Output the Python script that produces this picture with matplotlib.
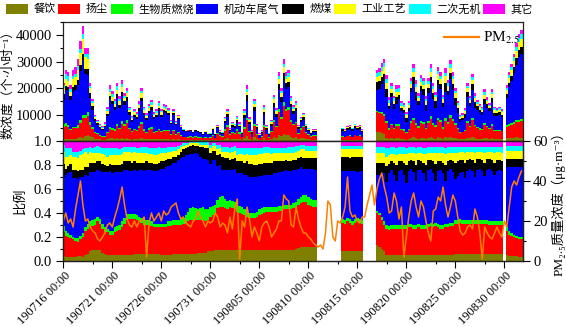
import numpy as np
import pandas as pd
import matplotlib
matplotlib.use('Agg')
import matplotlib.pyplot as plt
import matplotlib.dates as mdates
from matplotlib.patches import Patch
from matplotlib.lines import Line2D
from matplotlib.ticker import FixedLocator, MultipleLocator, FormatStrFormatter
from matplotlib.transforms import ScaledTranslation

plt.rcParams['font.family'] = ['Liberation Serif', 'Noto Sans CJK SC', 'DejaVu Sans']
plt.rcParams['mathtext.fontset'] = 'stix'
plt.rcParams['axes.unicode_minus'] = False

N = np.nan
start_time = '2019-07-16 00:00'   # 6-hourly samples

categories = ['餐饮', '扬尘', '生物质燃烧', '机动车尾气', '燃煤', '工业工艺', '二次无机', '其它']
colors = ['#808000', '#FF0000', '#00FF00', '#0000FF', '#000000', '#FFFF00', '#00FFFF', '#FF00FF']

# total number concentration, 6-hourly
total_count = [
    22000, 27000, 26000, 21000, 27000, 28000, 31000, 38000,
    43500, 35000, 35000, 22000, 16000, 10000, 8000, 6500,
    5500, 7000, 13000, 21000, 19000, 16000, 22000, 17000,
    23000, 18000, 20000, 13000, 9500, 12000, 11000, 15000,
    20000, 13000, 10500, 14000, 15500, 11000, 12000, 15000,
    12000, 14000, 13500, 12500, 8000, 12000, 7500, 10000,
    6000, 4500, 4200, 4000, 4200, 3500, 4300, 3800,
    3500, 2800, 3800, 3000, 3000, 5000, 2800, 6000,
    4000, 3500, 9000, 12000, 5000, 7000, 6500, 9500,
    7000, 3500, 12000, 21000, 9000, 4000, 16000, 6500,
    3000, 4000, 13500, 6000, 3000, 8000, 17500, 12500,
    26000, 20000, 31000, 26000, 27000, 17000, 13500, 15000,
    6000, 9000, 10500, 6500, 5000, 3500, 4500, 4500,
    N, N, N, N, N, N, N, N,
    N, N, 5000, 4500, 5500, 6000, 5000, 6500,
    5500, 6000, 4500, N, N, N, N, N,
    27000, 27500, 29500, 31000, 25000, 16500, 22000, 17000,
    21000, 21000, 15000, 14500, 11000, 15000, 24000, 29000,
    23000, 18000, 25000, 24000, 17000, 24000, 29000, 22000,
    18500, 28000, 26000, 17500, 27500, 23000, 30500, 26000,
    20000, 15000, 10000, 10500, 12500, 22000, 17000, 25500,
    18000, 15500, 14000, 13000, 19500, 16500, 14500, 19500,
    13000, 12500, 13000, 12000, N, 21000, 26000, 29000,
    33000, 37000, 40500, 42000,
]

# source shares (%), 6-hourly
share_food = [
    4, 3, 3, 3, 3, 3, 4, 4, 3, 5, 6, 8, 9, 9, 9, 9,
    7, 6, 5, 5, 5, 5, 5, 5, 5, 5, 5, 5, 5, 6, 6, 6,
    6, 6, 6, 6, 6, 6, 6, 6, 5, 5, 5, 5, 5, 6, 6, 6,
    6, 6, 6, 6, 6, 6, 6, 7, 7, 7, 7, 8, 8, 8, 9, 9,
    9, 9, 9, 9, 9, 9, 9, 9, 9, 9, 9, 9, 9, 9, 9, 9,
    9, 9, 9, 9, 9, 9, 9, 9, 9, 9, 9, 9, 9, 9, 9, 10,
    11, 12, 12, 12, 12, 12, 12, 12, N, N, N, N, N, N, N, N,
    N, N, 8, 8, 8, 8, 8, 8, 8, 8, 8, N, N, N, N, N,
    13, 12, 10, 8, 5, 5, 5, 5, 5, 5, 5, 5, 5, 5, 5, 5,
    5, 5, 5, 5, 5, 5, 5, 5, 5, 5, 5, 5, 5, 5, 5, 5,
    6, 6, 6, 6, 6, 6, 6, 6, 6, 6, 6, 6, 6, 6, 6, 6,
    6, 6, 6, 6, N, 5, 4, 4, 4, 4, 3, 3,
]
share_dust = [
    20, 18, 17, 16, 15, 14, 12, 14, 17, 20, 21, 20, 20, 21, 24, 22,
    20, 18, 19, 17, 17, 19, 20, 21, 23, 26, 29, 30, 30, 29, 28, 27,
    26, 24, 24, 24, 23, 22, 22, 22, 23, 23, 23, 24, 24, 24, 24, 24,
    24, 25, 26, 27, 28, 28, 28, 27, 27, 27, 26, 26, 29, 30, 31, 35,
    36, 36, 35, 34, 36, 35, 34, 32, 31, 30, 29, 28, 27, 27, 27, 28,
    29, 30, 31, 32, 32, 32, 32, 32, 33, 33, 34, 34, 34, 34, 35, 35,
    36, 36, 37, 37, 35, 34, 33, 33, N, N, N, N, N, N, N, N,
    N, N, 24, 23, 25, 24, 22, 24, 25, 24, 23, N, N, N, N, N,
    27, 26, 24, 22, 22, 21, 22, 22, 22, 22, 22, 22, 22, 23, 23, 22,
    22, 23, 22, 22, 22, 23, 24, 23, 24, 23, 22, 22, 23, 23, 24, 24,
    25, 25, 26, 25, 25, 25, 25, 25, 25, 25, 25, 25, 25, 25, 24, 24,
    24, 24, 24, 24, N, 20, 18, 17, 16, 15, 15, 15,
]
share_biomass = [
    5, 4, 3, 3, 2, 2, 3, 3, 3, 3, 4, 5, 5, 5, 4, 4,
    4, 4, 3, 3, 3, 4, 4, 4, 5, 5, 5, 4, 4, 4, 4, 4,
    4, 4, 4, 4, 4, 3, 3, 3, 3, 3, 3, 4, 4, 4, 4, 4,
    5, 5, 6, 8, 10, 11, 10, 9, 10, 11, 10, 9, 8, 8, 7, 7,
    8, 9, 8, 7, 6, 6, 6, 6, 6, 6, 5, 5, 4, 4, 4, 4,
    5, 5, 5, 4, 4, 4, 4, 4, 4, 4, 4, 4, 4, 4, 4, 4,
    5, 5, 6, 6, 6, 6, 6, 6, N, N, N, N, N, N, N, N,
    N, N, 3, 3, 3, 3, 3, 3, 3, 3, 3, N, N, N, N, N,
    2, 2, 3, 3, 3, 3, 3, 3, 3, 3, 3, 3, 3, 3, 3, 3,
    3, 3, 3, 3, 3, 3, 3, 3, 3, 3, 3, 3, 3, 3, 3, 3,
    3, 3, 3, 3, 3, 3, 3, 3, 3, 3, 3, 3, 3, 3, 3, 3,
    3, 3, 3, 3, N, 3, 3, 2, 2, 2, 2, 2,
]
share_vehicle = [
    41, 47, 50, 52, 49, 50, 49, 49, 47, 44, 40, 41, 40, 39, 39, 40,
    43, 46, 47, 50, 48, 46, 45, 44, 41, 40, 37, 36, 36, 37, 37, 39,
    40, 41, 42, 42, 43, 44, 44, 45, 46, 46, 47, 46, 47, 48, 48, 50,
    51, 51, 50, 47, 45, 44, 46, 46, 43, 40, 42, 41, 36, 38, 37, 28,
    27, 22, 24, 26, 25, 26, 28, 26, 27, 28, 29, 30, 30, 30, 30, 29,
    28, 27, 27, 27, 27, 27, 28, 28, 28, 28, 28, 29, 28, 28, 28, 27,
    25, 25, 22, 22, 24, 25, 26, 25, N, N, N, N, N, N, N, N,
    N, N, 40, 41, 39, 40, 42, 40, 38, 40, 41, N, N, N, N, N,
    30, 32, 36, 40, 36, 44, 46, 42, 37, 45, 46, 42, 35, 44, 46, 44,
    37, 45, 46, 43, 37, 45, 45, 42, 35, 44, 46, 43, 36, 44, 45, 42,
    34, 37, 38, 40, 35, 41, 43, 41, 36, 42, 43, 41, 37, 42, 44, 42,
    39, 42, 43, 42, N, 50, 53, 55, 56, 57, 58, 58,
]
share_coal = [
    11, 5, 6, 7, 7, 7, 7, 6, 6, 6, 7, 8, 8, 8, 7, 8,
    7, 6, 5, 6, 7, 6, 6, 6, 7, 7, 7, 8, 7, 7, 7, 6,
    6, 7, 7, 6, 6, 6, 6, 6, 6, 6, 6, 6, 5, 5, 5, 4,
    5, 6, 6, 7, 7, 8, 6, 7, 8, 10, 9, 10, 9, 8, 8, 9,
    9, 11, 10, 10, 8, 9, 9, 10, 10, 10, 10, 11, 11, 11, 10, 10,
    10, 10, 10, 10, 10, 10, 10, 10, 9, 9, 8, 8, 8, 8, 8, 8,
    9, 9, 9, 9, 9, 9, 9, 10, N, N, N, N, N, N, N, N,
    N, N, 12, 12, 12, 11, 12, 12, 13, 12, 12, N, N, N, N, N,
    10, 10, 9, 9, 13, 8, 7, 10, 13, 8, 7, 10, 15, 8, 7, 9,
    13, 8, 7, 9, 13, 8, 7, 10, 14, 8, 7, 9, 13, 8, 7, 9,
    14, 12, 11, 10, 13, 9, 8, 9, 12, 9, 8, 9, 11, 9, 8, 9,
    10, 9, 8, 8, N, 7, 7, 7, 7, 7, 7, 7,
]
share_industry = [
    10, 10, 8, 7, 11, 11, 11, 12, 13, 13, 11, 9, 8, 8, 7, 7,
    8, 8, 8, 7, 8, 8, 8, 8, 8, 8, 8, 8, 8, 8, 8, 8,
    8, 8, 7, 7, 7, 7, 7, 7, 7, 7, 6, 6, 6, 5, 5, 5,
    4, 3, 3, 2, 2, 1, 2, 2, 2, 2, 3, 3, 4, 4, 4, 5,
    5, 4, 5, 5, 6, 6, 6, 5, 6, 6, 6, 6, 7, 7, 8, 8,
    8, 8, 8, 8, 8, 7, 7, 7, 7, 7, 7, 6, 7, 7, 6, 7,
    6, 6, 7, 6, 6, 6, 6, 6, N, N, N, N, N, N, N, N,
    N, N, 6, 6, 6, 7, 6, 6, 6, 6, 6, N, N, N, N, N,
    8, 8, 8, 8, 8, 7, 6, 7, 8, 6, 6, 7, 9, 7, 6, 7,
    9, 6, 7, 7, 9, 6, 6, 7, 9, 7, 7, 8, 9, 7, 6, 7,
    8, 7, 7, 7, 8, 7, 6, 7, 8, 6, 6, 7, 8, 6, 6, 7,
    8, 7, 7, 7, N, 7, 7, 7, 7, 7, 7, 7,
]
share_secondary = [
    6, 7, 7, 6, 4, 4, 5, 4, 4, 3, 5, 4, 4, 5, 6, 5,
    5, 6, 7, 6, 6, 6, 6, 5, 5, 4, 4, 4, 5, 4, 4, 4,
    5, 5, 5, 5, 5, 6, 6, 6, 4, 4, 4, 4, 4, 3, 3, 3,
    2, 2, 1, 1, 1, 1, 1, 1, 2, 2, 2, 2, 3, 2, 2, 4,
    3, 4, 4, 4, 4, 4, 4, 6, 5, 5, 6, 5, 6, 6, 6, 6,
    5, 5, 5, 5, 5, 5, 4, 4, 4, 4, 4, 4, 5, 5, 5, 5,
    4, 4, 4, 4, 4, 4, 4, 4, N, N, N, N, N, N, N, N,
    N, N, 3, 3, 3, 3, 3, 3, 3, 3, 3, N, N, N, N, N,
    5, 5, 5, 5, 7, 6, 6, 6, 6, 6, 6, 6, 5, 5, 5, 5,
    5, 5, 5, 5, 5, 5, 5, 5, 5, 5, 5, 5, 5, 5, 5, 5,
    5, 5, 4, 4, 5, 4, 4, 4, 5, 4, 4, 4, 5, 4, 4, 4,
    5, 4, 4, 5, N, 4, 4, 4, 4, 4, 4, 4,
]
share_other = [
    3, 6, 6, 6, 9, 9, 9, 8, 7, 6, 6, 5, 6, 5, 4, 5,
    6, 6, 6, 6, 6, 6, 6, 7, 6, 5, 5, 5, 5, 5, 6, 6,
    5, 5, 5, 6, 6, 6, 6, 5, 6, 6, 6, 5, 5, 5, 5, 4,
    3, 2, 2, 2, 1, 1, 1, 1, 1, 1, 1, 1, 3, 2, 2, 3,
    3, 5, 5, 5, 6, 5, 4, 6, 6, 6, 6, 6, 6, 6, 6, 6,
    6, 6, 5, 5, 5, 6, 6, 6, 6, 6, 6, 6, 5, 5, 5, 4,
    4, 3, 3, 4, 4, 4, 4, 4, N, N, N, N, N, N, N, N,
    N, N, 4, 4, 4, 4, 4, 4, 4, 4, 4, N, N, N, N, N,
    5, 5, 5, 5, 6, 6, 5, 5, 6, 5, 5, 5, 6, 5, 5, 5,
    6, 5, 5, 6, 6, 5, 5, 5, 5, 5, 5, 5, 6, 5, 5, 5,
    5, 5, 5, 5, 5, 5, 5, 5, 5, 5, 5, 5, 5, 5, 5, 5,
    5, 5, 5, 5, N, 4, 4, 4, 4, 4, 4, 4,
]

# PM2.5 mass concentration (ug/m3), 6-hourly
pm25 = [
    20, 24, 19, 21, 17, 26, 33, 40,
    28, 20, 21, 17, 15, 14, 11, 10,
    12, 14, 18, 19, 17, 22, 26, 31,
    37, 28, 21, 18, 17, 20, 17, 20,
    20, 22, 2, 19, 24, 20, 22, 24,
    20, 25, 23, 24, 27, 28, 29, 24,
    21, 22, 19, 18, 17, 20, 21, 25,
    22, 20, 17, 20, 19, 20, 24, 22,
    17, 19, 18, 14, 22, 16, 26, 31,
    1, 20, 17, 27, 21, 12, 17, 14,
    10, 17, 19, 20, 17, 12, 14, 16,
    20, 20, 33, 31, 30, 18, 17, 27,
    21, 17, 14, 14, 12, 11, 9, 8,
    7, 8, 6, 14, 30, 28, 12, 10,
    20, 19, 22, 27, 42, 25, 22, 23,
    20, 19, 22, 22, 28, 33, 38, 28,
    36, 41, 44, 37, 32, 24, 25, 34,
    30, 21, 27, 2, 12, 22, 30, 34,
    27, 22, 30, 27, 20, 14, 10, 25,
    26, 32, 30, 37, 28, 22, 27, 33,
    30, 22, 15, 13, 14, 17, 18, 16,
    26, 22, 14, 1, 17, 14, 12, 11,
    14, 17, 14, 12, 20, 17, 27, 37,
    40, 38, 42, 45,
]

shares = np.array([share_food, share_dust, share_biomass, share_vehicle,
                   share_coal, share_industry, share_secondary, share_other], float)
total = np.array(total_count, float)
frac = shares / shares.sum(axis=0)
counts = frac * total
cum_counts = np.cumsum(counts, axis=0)
cum_frac = np.cumsum(frac, axis=0)

times = pd.date_range(start_time, periods=len(total), freq='6h')
tnum = mdates.date2num(times.to_pydatetime())
half = 0.125
x_step = np.column_stack([tnum - half, tnum + half]).ravel()

W, H = 566, 327
fig = plt.figure(figsize=(W / 100, H / 100), dpi=100)
L, R = 63.3 / W, 522.7 / W
ax1 = fig.add_axes([L, 1 - 141 / H, R - L, (141 - 22) / H])
ax2 = fig.add_axes([L, 1 - 261 / H, R - L, (261 - 141) / H], sharex=ax1)

for i in reversed(range(8)):
    ax1.fill_between(x_step, 0, np.repeat(cum_counts[i], 2), color=colors[i], lw=0)
    ax2.fill_between(x_step, 0, np.repeat(cum_frac[i], 2), color=colors[i], lw=0)

ax3 = ax2.twinx()
ax3.plot(tnum, pm25, color='#FF8000', lw=1.1)
ax3.set_ylim(0, 60)

x0 = mdates.date2num(pd.Timestamp('2019-07-16 00:00'))
x1 = mdates.date2num(pd.Timestamp('2019-08-31 21:00'))
ax1.set_xlim(x0, x1)

major_days = pd.date_range('2019-07-16', periods=10, freq='5D')
minor_days = pd.date_range('2019-07-19', periods=10, freq='5D')
ax2.xaxis.set_major_locator(FixedLocator(mdates.date2num(major_days.to_pydatetime())))
ax2.xaxis.set_minor_locator(FixedLocator(mdates.date2num(minor_days.to_pydatetime())))
ax2.xaxis.set_major_formatter(mdates.DateFormatter('%y%m%d %H:%M'))

ax1.set_ylim(0, 45000)
ax1.yaxis.set_major_locator(FixedLocator([10000, 20000, 30000, 40000]))
ax1.yaxis.set_minor_locator(MultipleLocator(5000))

ax2.set_ylim(0, 1)
ax2.yaxis.set_major_locator(MultipleLocator(0.2))
ax2.yaxis.set_minor_locator(MultipleLocator(0.1))
ax2.yaxis.set_major_formatter(FormatStrFormatter('%.1f'))
ax3.yaxis.set_major_locator(MultipleLocator(20))
ax3.yaxis.set_minor_locator(MultipleLocator(10))

for ax in (ax1, ax2, ax3):
    ax.tick_params(which='major', direction='out', length=5, width=0.8, labelsize=10.5, pad=3)
    ax.tick_params(which='minor', direction='out', length=2.5, width=0.8)
    for s in ax.spines.values():
        s.set_linewidth(0.9)
        s.set_color('#222222')
ax3.tick_params(which='major', pad=2.5)
ax1.tick_params(axis='x', which='both', bottom=False, labelbottom=False)
ax2.tick_params(axis='x', which='major', labelsize=9, pad=1)

for lab in ax2.get_xticklabels():
    lab.set_rotation(45)
    lab.set_ha('right')
    lab.set_transform(lab.get_transform() + ScaledTranslation(10 / 100, 0, fig.dpi_scale_trans))

ax1.set_ylabel('数浓度（个·小时⁻¹）', fontsize=9, labelpad=1)
ax2.set_ylabel('比例', fontsize=9.5, labelpad=5)
ax3.set_ylabel('PM₂.₅质量浓度（μg·m⁻³）', fontsize=9.5, labelpad=2.5)

handles = [Patch(facecolor=c, edgecolor='none') for c in colors]
fig.legend(handles, categories, loc='center left', bbox_to_anchor=(6 / W, 1 - 9 / H),
           ncol=8, frameon=False, fontsize=8, handlelength=2.0, handleheight=1.05,
           handletextpad=0.5, columnspacing=0.2, borderpad=0, borderaxespad=0)
fig.legend([Line2D([0], [0], color='#FF8000', lw=1.6)], ['PM$_{2.5}$'], loc='center right',
           bbox_to_anchor=(520 / W, 1 - 38 / H), frameon=False, fontsize=11,
           handlelength=2.3, handletextpad=0.25, borderpad=0, borderaxespad=0)

fig.savefig('out.png', dpi=100)
